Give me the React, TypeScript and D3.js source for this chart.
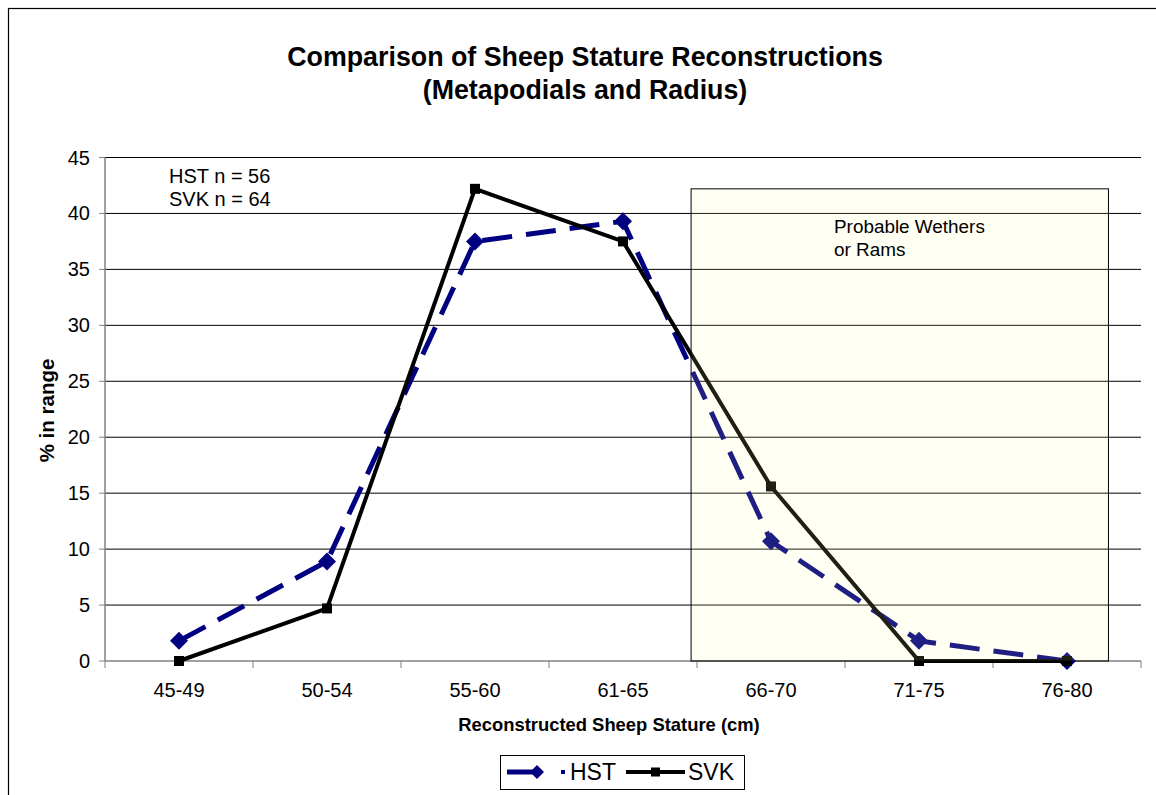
import React from "react";
import * as d3 from "d3";

const categories = ["45-49", "50-54", "55-60", "61-65", "66-70", "71-75", "76-80"];
const hstValues = [1.8, 8.9, 37.5, 39.3, 10.7, 1.8, 0];
const svkValues = [0, 4.7, 42.2, 37.5, 15.6, 0, 0];
const yTicks = [0, 5, 10, 15, 20, 25, 30, 35, 40, 45];
const titleLines = ["Comparison of Sheep Stature Reconstructions", "(Metapodials and Radius)"];
const noteLines = ["HST n = 56", "SVK n = 64"];
const boxLines = ["Probable Wethers", "or Rams"];
// annotation box extent in category-index units and value units
const boxX = [3.96, 6.78];
const boxY = [0, 42.2];

const W = 1156;
const H = 795;
const M = { left: 105, right: 1141, top: 157.5, bottom: 661 };
const FONT = "Arial, 'Liberation Sans', Helvetica, sans-serif";

export default function App() {
  const x = d3.scaleBand<string>().domain(categories).range([M.left, M.right]).padding(0);
  const xc = (c: string) => (x(c) as number) + x.bandwidth() / 2;
  const xi = d3.scaleLinear().domain([0, categories.length]).range([M.left, M.right]);
  const y = d3.scaleLinear().domain([0, 45]).range([M.bottom, M.top]);

  const line = d3
    .line<number>()
    .x((_, i) => xc(categories[i]))
    .y((d) => y(d));

  const diamond = (cx: number, cy: number, r: number) =>
    `M${cx},${cy - r}L${cx + r},${cy}L${cx},${cy + r}L${cx - r},${cy}Z`;

  const legendY = 772;

  return (
    <svg
      width={W}
      height={H}
      style={{ position: "absolute", left: 0, top: 0, background: "#fff" }}
      fontFamily={FONT}
    >
      <rect x={0} y={0} width={W} height={H} fill="#fff" />
      {/* outer frame */}
      <rect x={8.5} y={8.5} width={W + 20} height={H + 20} fill="none" stroke="#000" strokeWidth={1.2} />

      {/* title */}
      {titleLines.map((t, i) => (
        <text key={t} x={585} y={66 + i * 33} textAnchor="middle" fontSize={26.8} fontWeight="bold">
          {t}
        </text>
      ))}

      {/* gridlines */}
      {yTicks.map((t) => (
        <g key={t}>
          {t > 0 && (
            <line x1={M.left} x2={M.right} y1={y(t)} y2={y(t)} stroke="#000" strokeWidth={1} />
          )}
          <line x1={M.left - 6} x2={M.left} y1={y(t)} y2={y(t)} stroke="#808080" strokeWidth={1} />
          <text x={90} y={y(t) + 7} textAnchor="end" fontSize={20}>
            {t}
          </text>
        </g>
      ))}

      {/* axes */}
      <line x1={M.left} x2={M.left} y1={M.top} y2={M.bottom} stroke="#808080" strokeWidth={1.5} />
      <line x1={M.left} x2={M.right} y1={M.bottom} y2={M.bottom} stroke="#808080" strokeWidth={1.5} />
      {d3.range(categories.length + 1).map((i) => (
        <line key={i} x1={xi(i)} x2={xi(i)} y1={M.bottom} y2={M.bottom + 7} stroke="#808080" strokeWidth={1} />
      ))}
      {categories.map((c) => (
        <text key={c} x={xc(c)} y={697} textAnchor="middle" fontSize={20}>
          {c}
        </text>
      ))}

      {/* axis titles */}
      <text x={609} y={731} textAnchor="middle" fontSize={18.4} fontWeight="bold">
        Reconstructed Sheep Stature (cm)
      </text>
      <text
        transform={`translate(54,${(358 + 463) / 2}) rotate(-90)`}
        textAnchor="middle"
        fontSize={20.5}
        fontWeight="bold"
      >
        % in range
      </text>

      {/* series HST */}
      <path
        d={line(hstValues) || ""}
        fill="none"
        stroke="#000080"
        strokeWidth={5}
        strokeDasharray="30,14"
      />
      {hstValues.map((v, i) => (
        <path key={"h" + i} d={diamond(xc(categories[i]), y(v), 9)} fill="#000080" />
      ))}

      {/* series SVK */}
      <path d={line(svkValues) || ""} fill="none" stroke="#000" strokeWidth={4} strokeLinejoin="miter" />
      {svkValues.map((v, i) => (
        <rect key={"s" + i} x={xc(categories[i]) - 5} y={y(v) - 5} width={10} height={10} fill="#000" />
      ))}

      {/* annotation box (translucent, on top) */}
      <rect
        x={xi(boxX[0])}
        y={y(boxY[1])}
        width={xi(boxX[1]) - xi(boxX[0])}
        height={y(boxY[0]) - y(boxY[1])}
        fill="#FFFFA0"
        fillOpacity={0.12}
        stroke="#000"
        strokeWidth={1}
      />
      {boxLines.map((t, i) => (
        <text key={t} x={834} y={232.5 + i * 23.5} fontSize={18.9}>
          {t}
        </text>
      ))}

      {/* note */}
      {noteLines.map((t, i) => (
        <text key={t} x={169} y={183 + i * 23} fontSize={20}>
          {t}
        </text>
      ))}

      {/* legend */}
      <rect x={500.5} y={755.5} width={244} height={34} fill="#fff" stroke="#000" strokeWidth={1} />
      <line x1={507} x2={536} y1={legendY} y2={legendY} stroke="#000080" strokeWidth={5} />
      <path d={diamond(537, legendY, 7)} fill="#000080" />
      <rect x={561} y={legendY - 2} width={4} height={4} fill="#000080" />
      <text x={570} y={legendY + 8} fontSize={23}>
        HST
      </text>
      <line x1={626} x2={685} y1={legendY} y2={legendY} stroke="#000" strokeWidth={4} />
      <rect x={651} y={legendY - 4.5} width={9} height={9} fill="#000" />
      <text x={688} y={legendY + 8} fontSize={23}>
        SVK
      </text>
    </svg>
  );
}
